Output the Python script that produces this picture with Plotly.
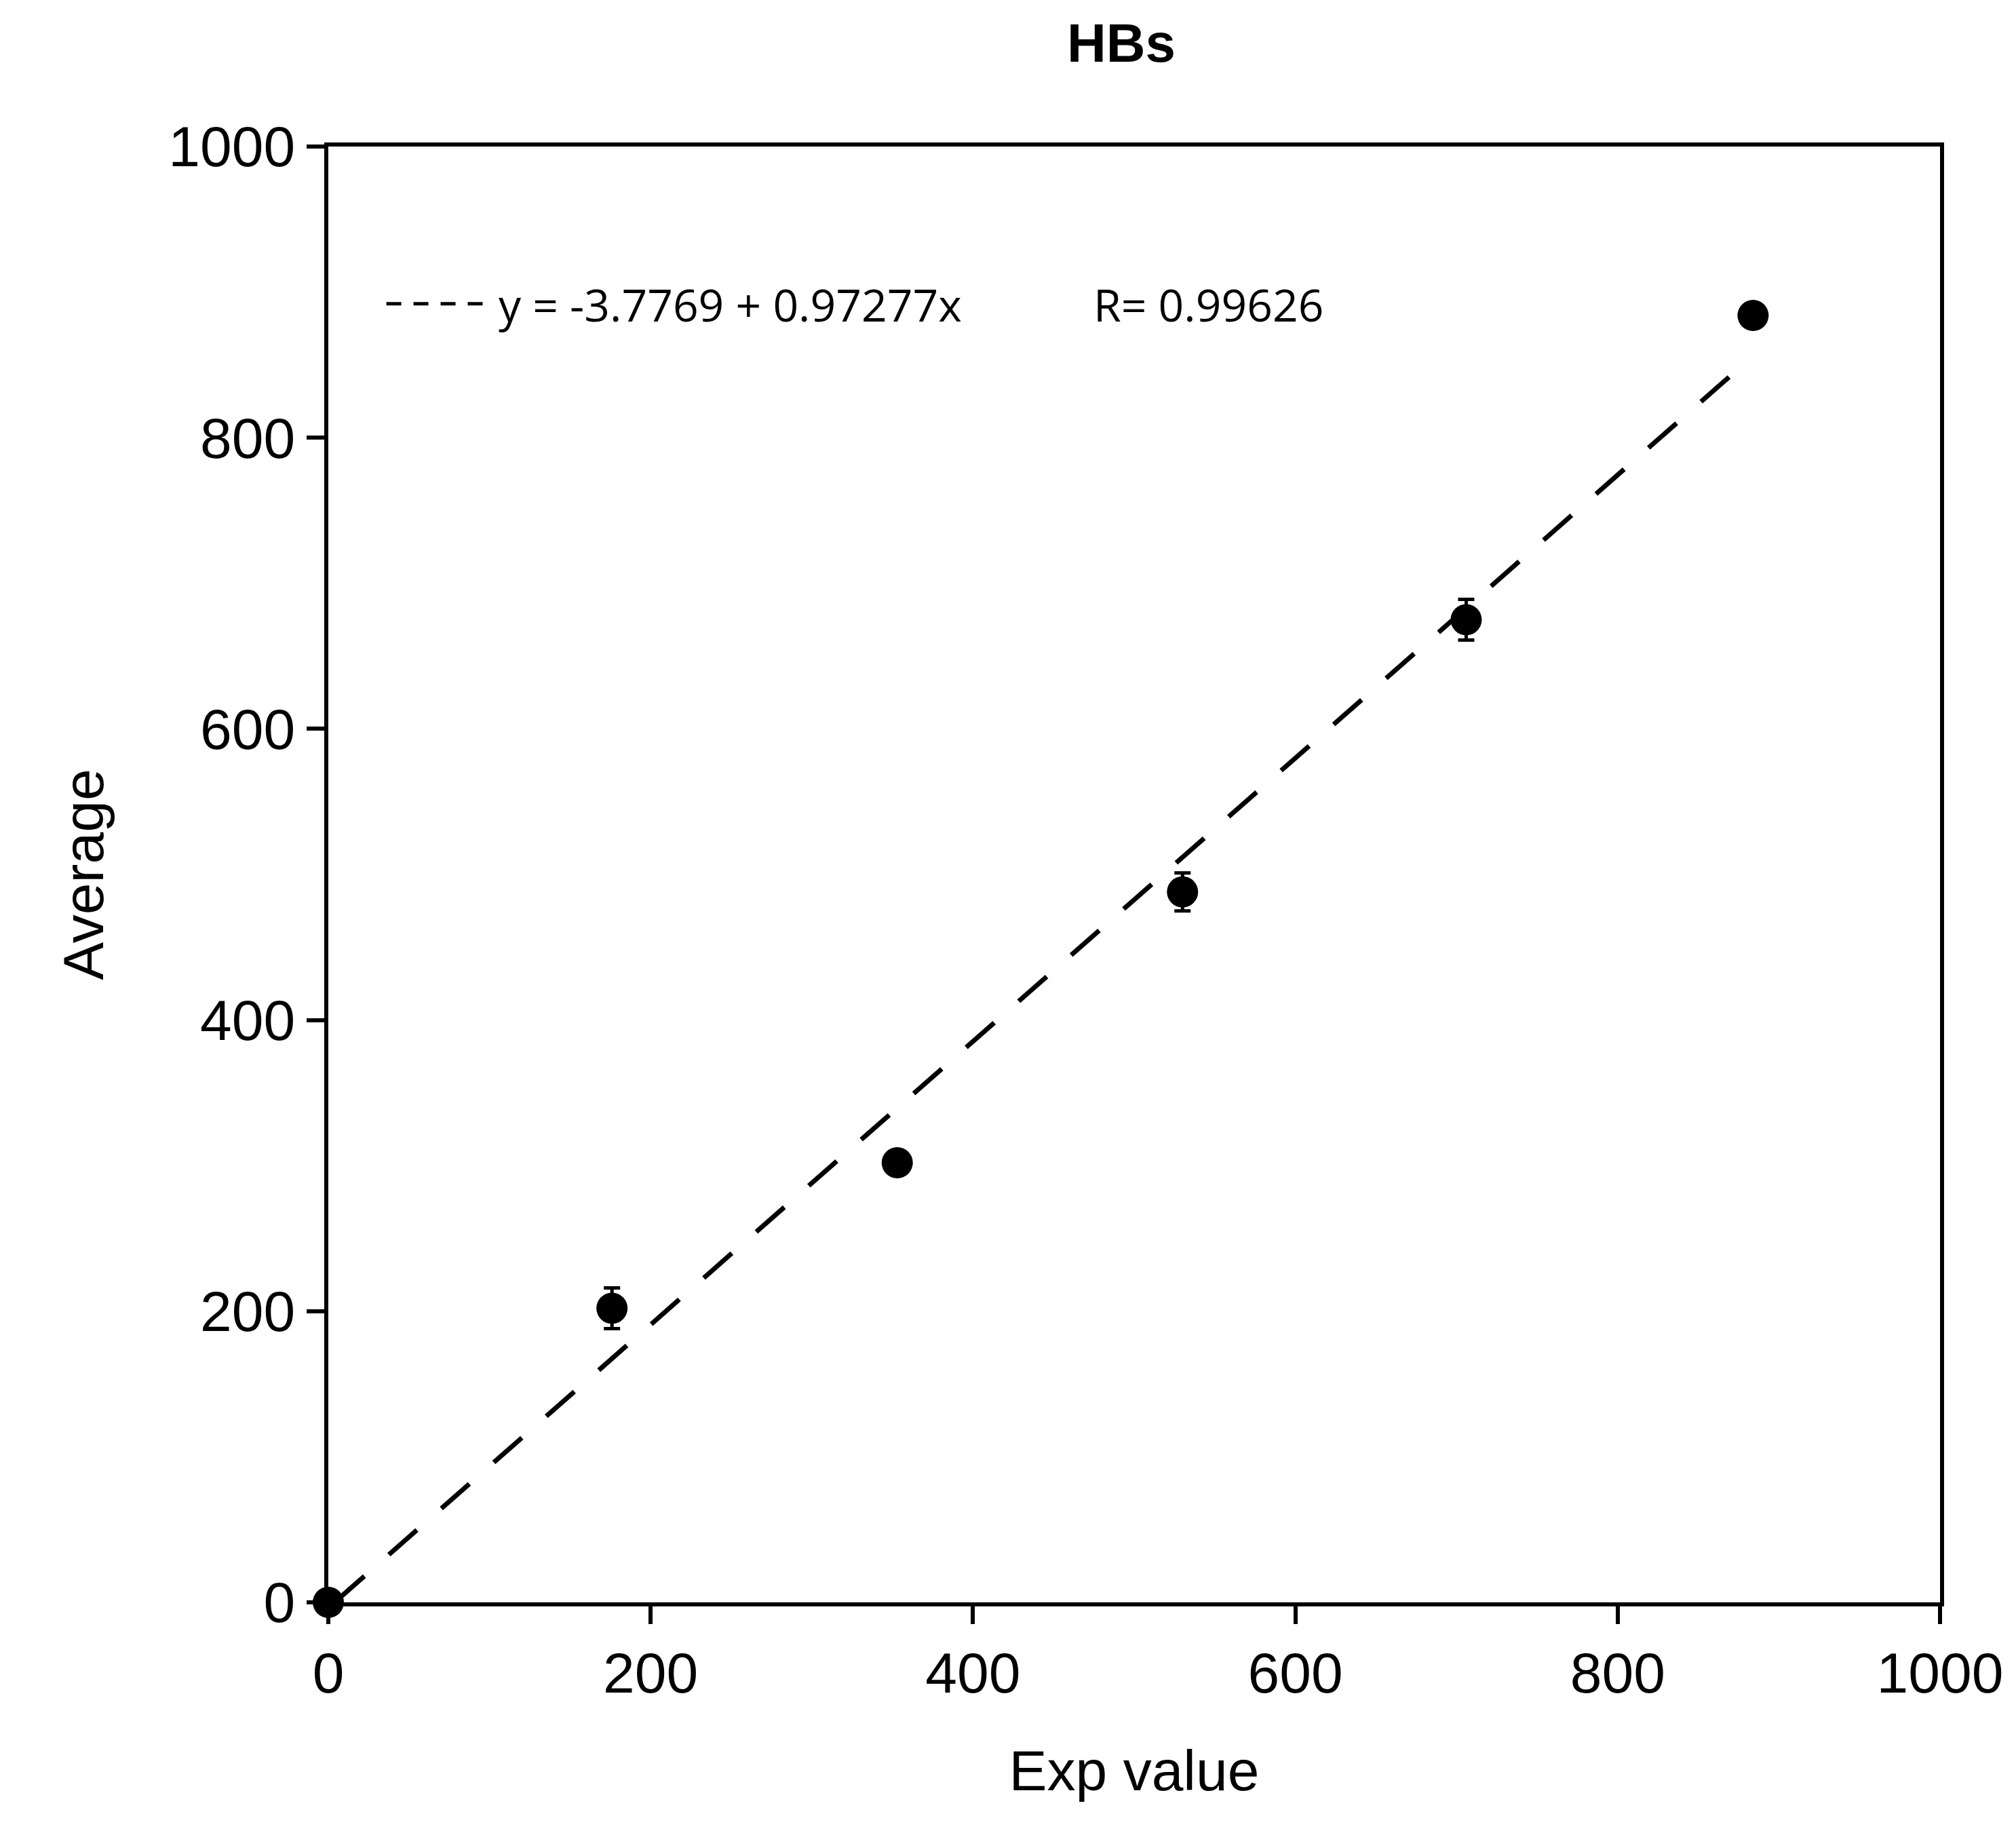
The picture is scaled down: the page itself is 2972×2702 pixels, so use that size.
import plotly.graph_objects as go

exp_value = [0, 176, 353, 530, 706, 884]
average = [0, 202, 302, 488, 675, 884]
err = [0, 14, 6, 13, 14, 3]
intercept = -3.7769
slope = 0.97277
fit_x = [5, 870]
fit_y = [intercept + slope * x for x in fit_x]

fig = go.Figure()
fig.add_trace(go.Scatter(x=fit_x, y=fit_y, mode="lines", cliponaxis=False,
                         line=dict(color="black", width=7, dash="55px,48px"), showlegend=False))
fig.add_trace(go.Scatter(x=exp_value, y=average, mode="markers", cliponaxis=False,
                         marker=dict(color="black", size=46),
                         error_y=dict(type="data", array=err, color="black", thickness=5, width=12),
                         showlegend=False))
fig.add_trace(go.Scatter(x=[36, 96], y=[892, 892], mode="lines",
                         line=dict(color="black", width=5, dash="22px,18px"), showlegend=False))
fig.add_annotation(x=105, y=892, text="y = -3.7769 + 0.97277x", showarrow=False, xanchor="left",
                   font=dict(family="Open Sans", size=66, color="black"))
fig.add_annotation(x=474, y=892, text="R= 0.99626", showarrow=False, xanchor="left",
                   font=dict(family="Open Sans", size=66, color="black"))

axis_common = dict(showline=True, linecolor="black", linewidth=6, mirror=True, ticks="outside",
                   ticklen=26, tickwidth=6, tickcolor="black", showgrid=False, zeroline=False,
                   tickfont=dict(family="Liberation Sans", size=84, color="black"),
                   range=[0, 1000], dtick=200)
fig.update_xaxes(**axis_common, title=dict(text="Exp value", font=dict(family="Liberation Sans", size=84, color="black"), standoff=70))
fig.update_yaxes(**axis_common, title=dict(text="Average", font=dict(family="Liberation Sans", size=84, color="black"), standoff=70))
fig.update_layout(
    width=2972, height=2702, plot_bgcolor="white", paper_bgcolor="white",
    margin=dict(l=476, r=120, t=208, b=348),
    title=dict(text="<b>HBs</b>", x=0.5535, xanchor="center", y=0.99, yanchor="top",
               font=dict(family="Liberation Sans", size=80, color="black")),
)
fig.write_html("out.html")
